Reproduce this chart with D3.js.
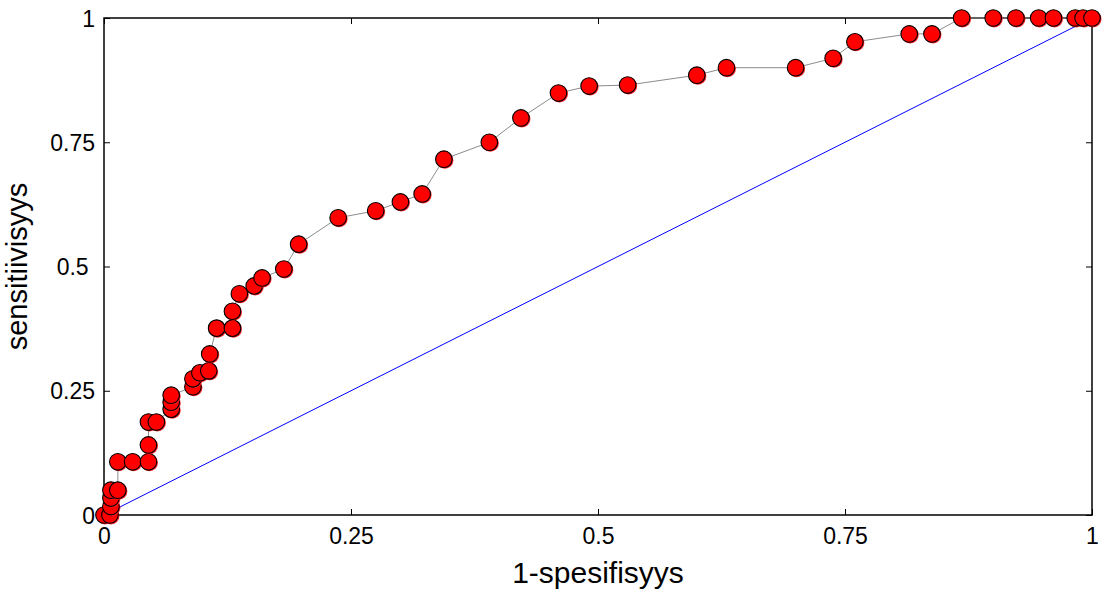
<!DOCTYPE html>
<html><head><meta charset="utf-8">
<script src="https://cdn.jsdelivr.net/npm/d3@7"></script>
<style>body{margin:0;background:#fff}svg{display:block}</style>
</head><body>
<svg id="c" width="1106" height="589"></svg>
<script>
const fpr = [0,0.006,0.007,0.007,0.007,0.014,0.014,0.029,0.045,0.045,0.045,0.053,0.068,0.068,0.068,0.09,0.09,0.097,0.106,0.107,0.114,0.13,0.13,0.137,0.152,0.16,0.182,0.197,0.237,0.275,0.3,0.322,0.344,0.39,0.422,0.46,0.491,0.53,0.6,0.63,0.7,0.738,0.76,0.815,0.838,0.868,0.9,0.923,0.946,0.961,0.983,0.991,1.0];
const tpr = [0,0,0.017,0.034,0.05,0.05,0.107,0.107,0.107,0.141,0.187,0.187,0.213,0.227,0.241,0.258,0.274,0.286,0.29,0.324,0.376,0.376,0.41,0.445,0.461,0.477,0.495,0.545,0.598,0.612,0.63,0.646,0.716,0.75,0.799,0.849,0.863,0.865,0.885,0.9,0.9,0.919,0.952,0.968,0.968,1,1,1,1,1,1,1,1];
const xTicks = [0,0.25,0.5,0.75,1];
const yTicks = [0,0.25,0.5,0.75,1];
const xTickLabels = ["0","0.25","0.5","0.75","1"];
const yTickLabels = ["0","0.25","0.5\u00a0","0.75","1"];
const xLabel = "1-spesifisyys";
const yLabel = "sensitiivisyys";

const svg = d3.select("#c");
const L=104,R=1092,T=18,B=515;
const x = d3.scaleLinear().domain([0,1]).range([L,R]);
const y = d3.scaleLinear().domain([0,1]).range([B,T]);
const font = "Liberation Sans, Arial, sans-serif";

// box
svg.append("rect").attr("x",L).attr("y",T).attr("width",R-L).attr("height",B-T)
  .attr("fill","none").attr("stroke","#000").attr("stroke-width",1.5);

function styleAxis(g){
  g.select(".domain").remove();
  g.selectAll("line").attr("stroke","#000").attr("stroke-width",1);
  g.selectAll("text").attr("font-family",font).attr("font-size",23).attr("fill","#000");
}
const gx = svg.append("g").attr("transform",`translate(0,${B})`)
  .call(d3.axisBottom(x).tickValues(xTicks).tickFormat((d,i)=>xTickLabels[i]).tickSizeInner(-6).tickSizeOuter(0));
styleAxis(gx); gx.selectAll("text").attr("y",29).attr("dy",0);
const gt = svg.append("g").attr("transform",`translate(0,${T})`)
  .call(d3.axisTop(x).tickValues(xTicks).tickFormat("").tickSizeInner(-6).tickSizeOuter(0));
styleAxis(gt);
const gy = svg.append("g").attr("transform",`translate(${L},0)`)
  .call(d3.axisLeft(y).tickValues(yTicks).tickFormat((d,i)=>yTickLabels[i]).tickSizeInner(-6).tickSizeOuter(0));
styleAxis(gy); gy.selectAll("text").attr("x",-9).attr("dy","0.35em");
const gr = svg.append("g").attr("transform",`translate(${R},0)`)
  .call(d3.axisRight(y).tickValues(yTicks).tickFormat("").tickSizeInner(-6).tickSizeOuter(0));
styleAxis(gr);

// diagonal
svg.append("line").attr("x1",x(0)).attr("y1",y(0)).attr("x2",x(1)).attr("y2",y(1))
  .attr("stroke","#0000ff").attr("stroke-width",1);

// ROC line
const pts = fpr.map((d,i)=>[d,tpr[i]]);
svg.append("path").datum(pts)
  .attr("d", d3.line().x(d=>x(d[0])).y(d=>y(d[1])))
  .attr("fill","none").attr("stroke","#8c8c8c").attr("stroke-width",1);

// markers (with slight red shadow)
const mg = svg.append("g");
pts.forEach(d=>{
  mg.append("circle").attr("cx",x(d[0])+1).attr("cy",y(d[1])+1).attr("r",8.5).attr("fill","#ff2020");
  mg.append("circle").attr("cx",x(d[0])).attr("cy",y(d[1])).attr("r",8.3)
    .attr("fill","#ff0000").attr("stroke","#000").attr("stroke-width",1.1);
});

// labels
svg.append("text").attr("x",x(0.5)).attr("y",583).attr("text-anchor","middle")
  .attr("font-family",font).attr("font-size",30).text(xLabel);
svg.append("text").attr("transform",`translate(27,${(T+B)/2}) rotate(-90)`).attr("text-anchor","middle")
  .attr("font-family",font).attr("font-size",29).text(yLabel);
</script>
</body></html>
